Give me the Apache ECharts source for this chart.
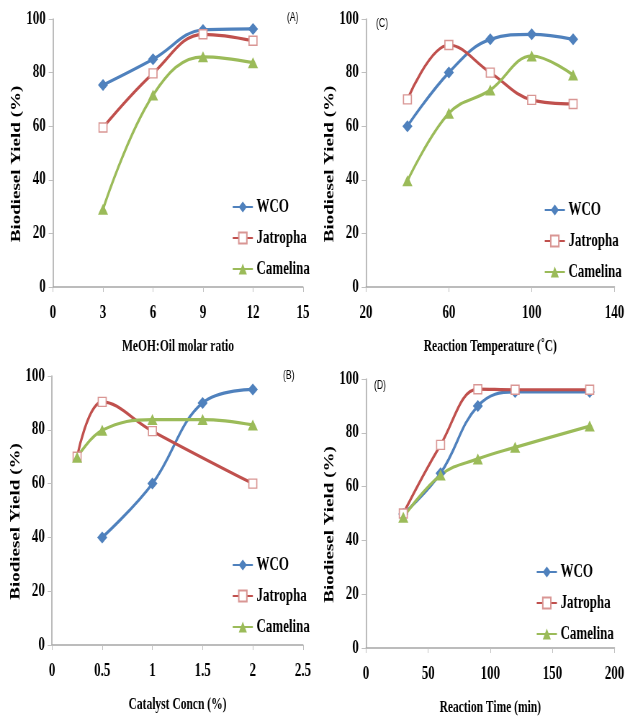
<!DOCTYPE html>
<html>
<head>
<meta charset="utf-8">
<script src="https://cdn.jsdelivr.net/npm/echarts@6/dist/echarts.min.js"></script>
<style>
html,body{margin:0;padding:0;background:#fff;overflow:hidden}
#wrap{width:626px;height:717px;overflow:hidden}
#c{width:870px;height:717px;transform:scaleX(0.72);transform-origin:0 0}
</style>
</head>
<body>
<div id="wrap"><div id="c"></div></div>
<script>
// Panel A: MeOH:Oil molar ratio
const aX = [3, 6, 9, 12];
const aWCO = [75.4, 85, 95.9, 96.3];
const aJat = [59.5, 79.7, 94.3, 91.9];
const aCam = [29, 71.6, 85.9, 83.7];
const aTicks = [0, 3, 6, 9, 12, 15];
// Panel C: Reaction temperature
const cX = [40, 60, 80, 100, 120];
const cWCO = [60, 80, 92.4, 94.3, 92.4];
const cJat = [70, 90.3, 80, 69.8, 68.3];
const cCam = [39.6, 64.8, 73.5, 86.2, 79.1];
const cTicks = [20, 60, 100, 140];
// Panel B: Catalyst concentration
const bXWCO = [0.5, 1, 1.5, 2];
const bWCO = [40, 60, 90, 95];
const bXJat = [0.25, 0.5, 1, 2];
const bJat = [70, 90.4, 79.5, 60];
const bXCam = [0.25, 0.5, 1, 1.5, 2];
const bCam = [69.8, 79.8, 83.8, 83.8, 81.8];
const bTicks = [0, 0.5, 1, 1.5, 2, 2.5];
// Panel D: Reaction time
const dX = [30, 60, 90, 120, 180];
const dWCO = [49.8, 65, 90, 95.2, 95.2];
const dJat = [50, 75.5, 96.2, 96, 96];
const dCam = [48.6, 64.3, 70.3, 74.6, 82.5];
const dTicks = [0, 50, 100, 150, 200];

const seriesNames = ['WCO', 'Jatropha', 'Camelina'];
const xNames = ['MeOH:Oil molar ratio', 'Reaction Temperature (˚C)', 'Catalyst Concn (%)', 'Reaction Time (min)'];
const yName = 'Biodiesel Yield (%)';
const panelTags = ['(A)', '(C)', '(B)', '(D)'];

const BLUE = '#4F81BD', RED = '#C0504D', GREEN = '#9BBB59';
const FONT = "'Liberation Serif', 'Times New Roman', serif";
const SX = 0.72; // horizontal squeeze of the whole picture
const px = v => v / SX;
const pair = (xs, ys) => xs.map((x, i) => [x, ys[i]]);

const grids = [
  {left: px(53), top: 19, width: px(250), height: 268},
  {left: px(366), top: 19, width: px(250), height: 268},
  {left: px(52), top: 376, width: px(251), height: 269},
  {left: px(366), top: 379, width: px(250), height: 269}
];
const xRanges = [
  {min: 0, max: 15, ticks: aTicks},
  {min: 20, max: 140, ticks: cTicks},
  {min: 0, max: 2.5, ticks: bTicks},
  {min: 0, max: 200, ticks: dTicks}
];
const axisLineStyle = {color: '#a6a6a6', width: 1.5};
const xAxes = xRanges.map((r, i) => ({
  gridIndex: i, type: 'value', min: r.min, max: r.max,
  name: xNames[i], nameLocation: 'middle', nameGap: 52,
  nameTextStyle: {fontFamily: FONT, fontWeight: 'bold', fontSize: 16, color: '#000'},
  axisLine: {show: true, onZero: false, lineStyle: axisLineStyle},
  axisTick: {show: true, length: 5, lineStyle: {color: '#bfbfbf'}, customValues: r.ticks},
  axisLabel: {fontFamily: FONT, fontWeight: 'bold', fontSize: 18, color: '#000', margin: 17, customValues: r.ticks, formatter: v => String(v)},
  splitLine: {show: false}
}));
const yAxes = grids.map((g, i) => ({
  gridIndex: i, type: 'value', min: 0, max: 100, interval: 20,
  name: yName, nameLocation: 'middle', nameGap: 40, nameRotate: 90,
  nameTextStyle: {fontFamily: FONT, fontWeight: 'bold', fontSize: 19, color: '#000', padding: [0, 22, 0, 0]},
  axisLine: {show: true, lineStyle: axisLineStyle},
  axisTick: {show: true, length: 6, lineStyle: {color: '#bfbfbf'}},
  axisLabel: {fontFamily: FONT, fontWeight: 'bold', fontSize: 18, color: '#000', margin: 10},
  splitLine: {show: false}
}));

function mk(name, idx, data) {
  const base = {
    name: name, type: 'line', xAxisIndex: idx, yAxisIndex: idx, data: data,
    smooth: 0.4, lineStyle: {width: 3.2}, z: 3
  };
  if (name === 'WCO') {
    base.symbol = 'diamond'; base.symbolSize = [14, 12];
    base.itemStyle = {color: BLUE}; base.lineStyle.color = BLUE;
  } else if (name === 'Jatropha') {
    base.symbol = 'rect'; base.symbolSize = [11, 9];
    base.itemStyle = {color: '#ffffff', borderColor: '#D99694', borderWidth: 1.5};
    base.lineStyle.color = RED;
  } else {
    base.symbol = 'triangle'; base.symbolSize = [14, 11];
    base.itemStyle = {color: GREEN}; base.lineStyle.color = GREEN;
  }
  return base;
}

const series = [
  mk('WCO', 0, pair(aX, aWCO)), mk('Jatropha', 0, pair(aX, aJat)), mk('Camelina', 0, pair(aX, aCam)),
  mk('WCO', 1, pair(cX, cWCO)), mk('Jatropha', 1, pair(cX, cJat)), mk('Camelina', 1, pair(cX, cCam)),
  mk('WCO', 2, pair(bXWCO, bWCO)), mk('Jatropha', 2, pair(bXJat, bJat)), mk('Camelina', 2, pair(bXCam, bCam)),
  mk('WCO', 3, pair(dX, dWCO)), mk('Jatropha', 3, pair(dX, dJat)), mk('Camelina', 3, pair(dX, dCam))
];

const legendPos = [
  {left: px(232), top: 198},
  {left: px(544), top: 201},
  {left: px(232), top: 556},
  {left: px(536), top: 563}
];
const legends = legendPos.map(p => ({
  left: p.left, top: p.top, orient: 'vertical', data: seriesNames, padding: 0,
  itemWidth: 28, itemHeight: 14, itemGap: 13, selectedMode: false,
  textStyle: {fontFamily: FONT, fontWeight: 'bold', fontSize: 18, color: '#000'}
}));

const tagPos = [
  {left: px(287), top: 12},
  {left: px(376), top: 18},
  {left: px(283), top: 370},
  {left: px(374), top: 380}
];
const titles = tagPos.map((p, i) => ({
  text: panelTags[i], left: p.left, top: p.top, padding: 0,
  textStyle: {fontFamily: "'Liberation Sans', Arial, sans-serif", fontWeight: 'normal', fontSize: 12, color: '#000'}
}));

const chart = echarts.init(document.getElementById('c'), null, {renderer: 'canvas'});
chart.setOption({
  animation: false,
  backgroundColor: '#ffffff',
  title: titles,
  legend: legends,
  grid: grids,
  xAxis: xAxes,
  yAxis: yAxes,
  series: series
});
</script>
</body>
</html>
